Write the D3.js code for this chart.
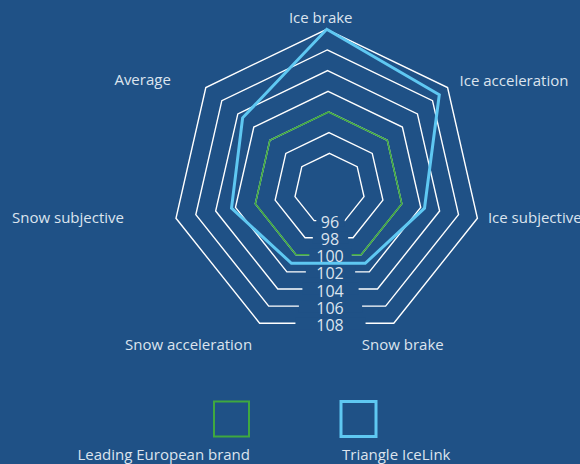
<!DOCTYPE html>
<html>
<head>
<meta charset="utf-8">
<script src="https://cdn.jsdelivr.net/npm/d3@7"></script>
<style>
  html, body { margin: 0; padding: 0; background: #1f5186; }
  svg { display: block; }
</style>
</head>
<body>
<svg id="chart"></svg>
<script>
// data
const axes = ['Ice brake', 'Ice acceleration', 'Ice subjective', 'Snow brake',
              'Snow acceleration', 'Snow subjective', 'Average'];
const tickValues = [96, 98, 100, 102, 104, 106, 108];
const leadingBrand = [100, 100, 100, 100, 100, 100, 100];
const triangleIceLink = [108, 106.9, 102.4, 101, 101, 102.4, 103.4];
const seriesNames = ['Leading European brand', 'Triangle IceLink'];

// style / layout config
const Config = {
    width: 580,
    height: 464,
    bg: '#1f5186',
    text: '#dce4ee',
    grid: '#ffffff',
    colors: ['#3fa83f', '#5fc8f2'],
    lineWidths: [1.6, 3],
    tickX: 330,
    // label nudges relative to the outer ring vertex: [dx, dy, anchor]
    labelNudge: [
        [-6, -12, 'middle'],
        [12, -6.5, 'start'],
        [10.5, -1, 'start'],
        [-32, 21.5, 'start'],
        [-7.5, 21.5, 'end'],
        [-52, -1, 'end'],
        [-35, -7.5, 'end']
    ]
};

const svg = d3.select('#chart')
    .attr('width', Config.width)
    .attr('height', Config.height)
    .style('font-family', '"Open Sans", sans-serif');

svg.append('rect')
    .attr('width', Config.width)
    .attr('height', Config.height)
    .attr('fill', Config.bg);

// radial scales - the rings in the source drift a little, so the centre moves with the value
const rScale = d3.scaleLinear().domain([96, 108]).range([35.4, 154.6]);
const cxScale = d3.scaleLinear().domain([96, 108]).range([329.5, 326.7]);
const cyScale = d3.scaleLinear().domain([96, 108]).range([188.7, 183.9]);
const angle = d3.scaleLinear().domain([0, axes.length]).range([0, 2 * Math.PI]);

function point(v, i) {
    const a = angle(i);
    return [cxScale(v) + rScale(v) * Math.sin(a), cyScale(v) - rScale(v) * Math.cos(a)];
}

const closedLine = d3.line().curve(d3.curveLinearClosed);

// grid rings
const gridG = svg.append('g');
gridG.selectAll('path')
    .data(tickValues)
    .enter().append('path')
    .attr('d', v => closedLine(axes.map((_, i) => point(v, i))))
    .attr('fill', 'none')
    .attr('stroke', Config.grid)
    .attr('stroke-width', 1.4)
    .attr('stroke-linejoin', 'miter');

// series drawing
function drawSeries(values, k) {
    svg.append('path')
        .attr('d', closedLine(values.map((v, i) => point(v, i))))
        .attr('fill', 'none')
        .attr('stroke', Config.colors[k])
        .attr('stroke-width', Config.lineWidths[k])
        .attr('stroke-linejoin', 'miter');
}

drawSeries(leadingBrand, 0);

// gaps in the bottom edge of each ring for the tick labels
const bottomY = v => point(v, 3)[1];
svg.append('g').selectAll('rect')
    .data(tickValues)
    .enter().append('rect')
    .attr('x', v => Config.tickX + 0.5 - (rScale(v) * 0.35 + 16) / 2)
    .attr('y', v => bottomY(v) - 6)
    .attr('width', v => rScale(v) * 0.35 + 16)
    .attr('height', 12)
    .attr('fill', Config.bg);

drawSeries(triangleIceLink, 1);

// tick labels
svg.append('g').selectAll('text')
    .data(tickValues)
    .enter().append('text')
    .attr('x', Config.tickX)
    .attr('y', v => bottomY(v) + 2)
    .attr('dy', '0.35em')
    .attr('text-anchor', 'middle')
    .attr('fill', Config.text)
    .attr('font-size', 16)
    .text(v => v);

// axis labels
svg.append('g').selectAll('text')
    .data(axes)
    .enter().append('text')
    .attr('x', (d, i) => point(108, i)[0] + Config.labelNudge[i][0])
    .attr('y', (d, i) => point(108, i)[1] + Config.labelNudge[i][1])
    .attr('dy', '0.35em')
    .attr('text-anchor', (d, i) => Config.labelNudge[i][2])
    .attr('fill', Config.text)
    .attr('font-size', 15)
    .text(d => d);

// legend
const legendX = d3.scalePoint().domain(seriesNames).range([231.5, 358.5]);
const box = 35;
const legend = svg.append('g').selectAll('g')
    .data(seriesNames)
    .enter().append('g');

legend.append('rect')
    .attr('x', d => legendX(d) - box / 2)
    .attr('y', 401.5)
    .attr('width', box)
    .attr('height', box)
    .attr('fill', 'none')
    .attr('stroke', (d, k) => Config.colors[k])
    .attr('stroke-width', (d, k) => k === 0 ? 2 : 3);

legend.append('text')
    .attr('x', (d, k) => k === 0 ? legendX(d) + box / 2 + 1 : legendX(d) - box / 2 + 1)
    .attr('y', 459.5)
    .attr('text-anchor', (d, k) => k === 0 ? 'end' : 'start')
    .attr('fill', Config.text)
    .attr('font-size', 15)
    .text(d => d);
</script>
</body>
</html>
